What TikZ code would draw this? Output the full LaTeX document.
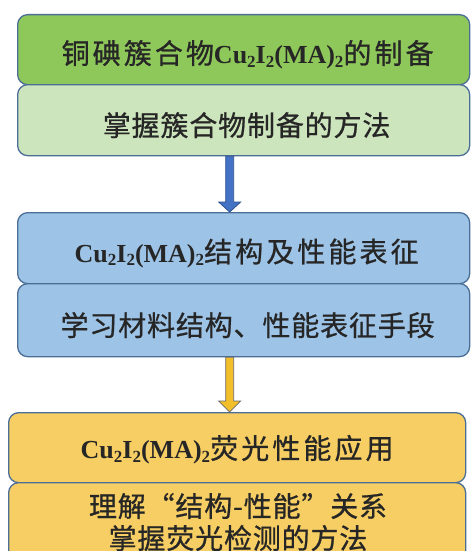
\documentclass[tikz,border=0pt]{standalone}
\usepackage{fontspec}
\usetikzlibrary{calc}
\setmainfont{Liberation Serif}
\newfontfamily\cjk{Noto Sans CJK SC}[FakeBold=0.8,LetterSpace=3]
\newfontfamily\cjkt{Noto Sans CJK SC}[FakeBold=0.8,LetterSpace=11]
\newfontfamily\tms{Liberation Serif}
\newcommand\mysub[1]{\raisebox{-0.3ex}{\fontsize{17}{17}\selectfont #1}}
\newcommand\formula{{\tms\bfseries\fontsize{26}{26}\selectfont Cu\mysub{2}I\mysub{2}(MA)\mysub{2}}}
\definecolor{gA}{HTML}{8FC85A}
\definecolor{gB}{HTML}{CDE5BC}
\definecolor{bA}{HTML}{9DC3E6}
\definecolor{yA}{HTML}{F6CE63}
\definecolor{edge}{HTML}{4A6E96}
\definecolor{arB}{HTML}{4472C4}
\definecolor{arBd}{HTML}{2F528F}
\definecolor{arY}{HTML}{F2BE2A}
\definecolor{arYd}{HTML}{6B6B6B}
\begin{document}
\begin{tikzpicture}[x=1pt,y=-1pt,
  box/.style={draw=edge, line width=1.3pt, rounded corners=10pt, rectangle, inner sep=0pt, anchor=north west},
  txt/.style={font=\cjk\fontsize{28}{32}\selectfont, text=black!85, inner sep=0pt, align=center},
  ttl/.style={font=\cjkt\fontsize{28}{32}\selectfont, text=black!85, inner sep=0pt, align=center},
  arrowshape/.style={line width=0.8pt, line join=miter}]
\useasboundingbox (0,0) rectangle (471,551);
\clip (0,0) rectangle (471,551);
\fill[white] (0,0) rectangle (471,551);
% boxes
\node[box, fill=gA, minimum width=452pt, minimum height=70pt] (b1) at (17,14) {};
\node[box, fill=gB, minimum width=452pt, minimum height=71pt] (b2) at (17,84) {};
\node[box, fill=bA, minimum width=452pt, minimum height=71pt] (b3) at (17,212) {};
\node[box, fill=bA, minimum width=452pt, minimum height=73pt] (b4) at (17,283) {};
\node[box, fill=yA, minimum width=457pt, minimum height=70pt] (b5) at (8,412) {};
\node[box, fill=yA, minimum width=457pt, minimum height=100pt] (b6) at (8,482) {};
% texts
\node[ttl] (t1) at ($(b1.center)+(4,5)$) {铜碘簇合物\formula 的制备};
\node[txt] (t2) at ($(b2.center)+(3,5)$) {掌握簇合物制备的方法};
\node[ttl] (t3) at ($(b3.center)+(3,5)$) {\formula 结构及性能表征};
\node[txt] (t4) at ($(b4.center)+(4,5)$) {学习材料结构、性能表征手段};
\node[ttl] (t5) at ($(b5.center)+(0,2)$) {\formula 荧光性能应用};
\node[txt] (t6) at (238,522) {理解“结构-性能”关系\\掌握荧光检测的方法};
% arrows
\coordinate (a1s) at ($(b2.south)+(-14,0)$);
\coordinate (a1e) at ($(b3.north)+(-14,0)$);
\draw[arrowshape, fill=arB, draw=arBd]
  ($(a1s)+(-4,0)$) -- ($(a1e)+(-4,-10)$) -- ($(a1e)+(-11,-10)$) -- (a1e)
  -- ($(a1e)+(11,-10)$) -- ($(a1e)+(4,-10)$) -- ($(a1s)+(4,0)$) -- cycle;
\coordinate (a2s) at ($(b4.south)+(-14,0)$);
\coordinate (a2e) at ($(b5.north)+(-7.5,0)$);
\draw[arrowshape, fill=arY, draw=arYd]
  ($(a2s)+(-4,0)$) -- ($(a2e)+(-4,-11)$) -- ($(a2e)+(-11,-11)$) -- (a2e)
  -- ($(a2e)+(11,-11)$) -- ($(a2e)+(4,-11)$) -- ($(a2s)+(4,0)$) -- cycle;
\end{tikzpicture}
\end{document}
